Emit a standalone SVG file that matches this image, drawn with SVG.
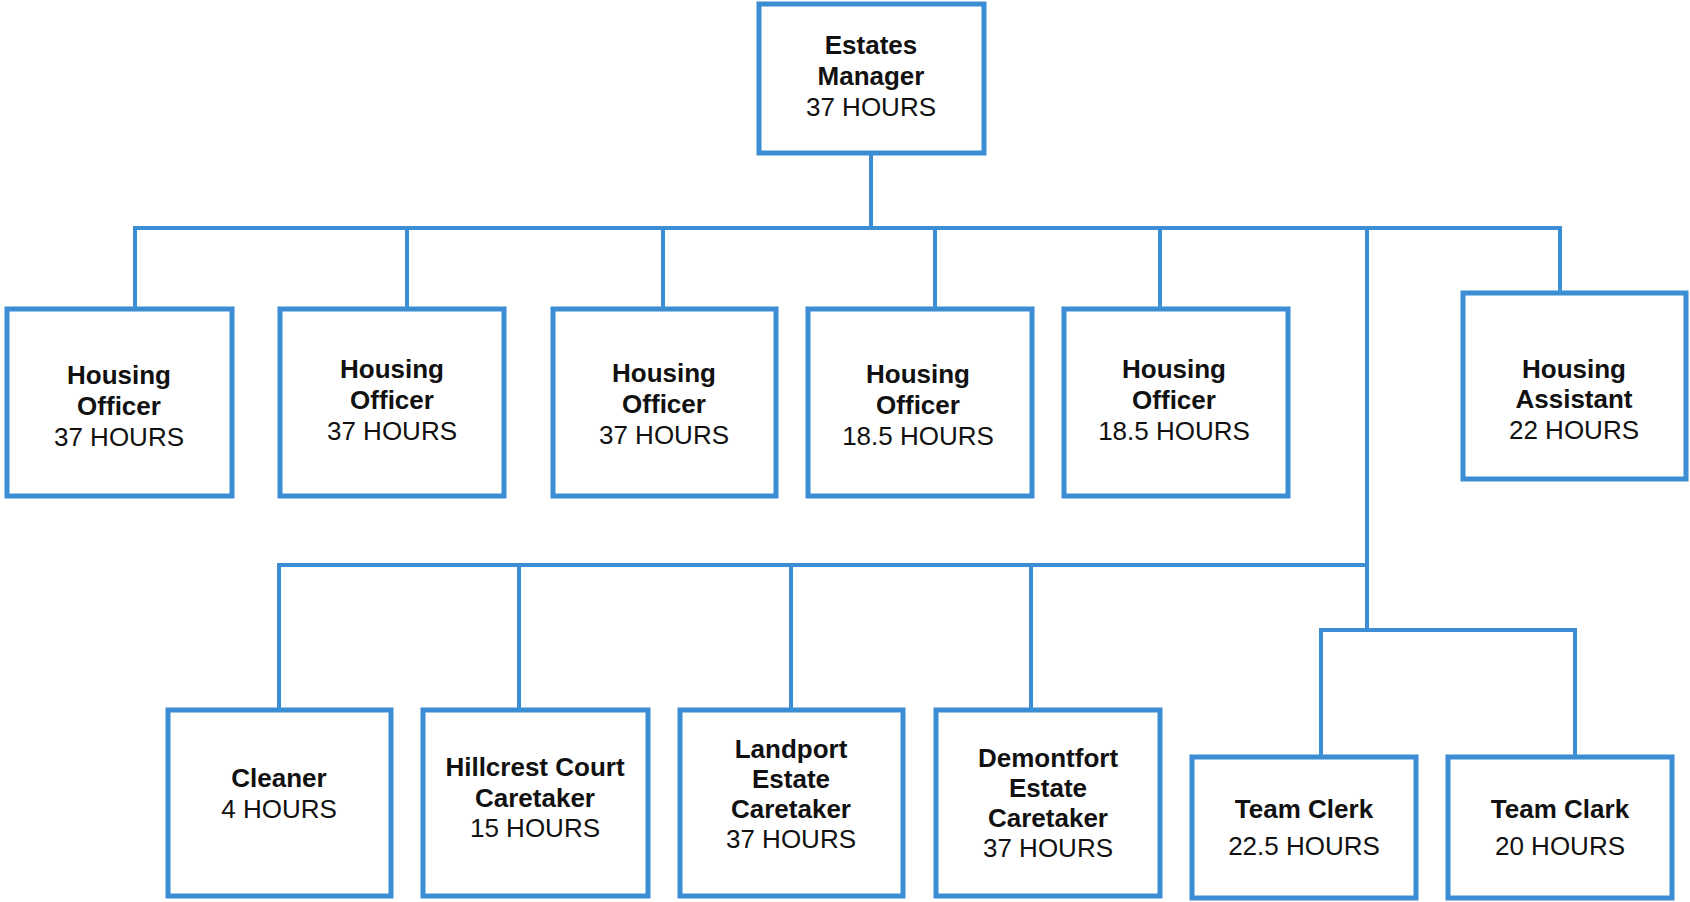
<svg xmlns="http://www.w3.org/2000/svg" width="1690" height="902" viewBox="0 0 1690 902">
<style>
.box{fill:#fff;stroke:#3B8ED4;stroke-width:5}
.ln{fill:none;stroke:#3B8ED4;stroke-width:4;stroke-linecap:square}
text{font-family:"Liberation Sans",Arial,sans-serif;font-size:26px;fill:#111;text-anchor:middle}
.b{font-weight:bold}
</style>
<rect width="1690" height="902" fill="#fff"/>
<g id="connectors">
<path class="ln" d="M871 153V228M135 228H1560M135 228V309M407 228V309M663 228V309M935 228V309M1160 228V309M1560 228V293M1367 228V630M279 565H1367M279 565V710M519 565V710M791 565V710M1031 565V710M1321 630H1575M1321 630V757M1575 630V757"/>
</g>
<g id="estates-manager"><rect class="box" x="759" y="4" width="225" height="149"/>
<text x="871" y="54"><tspan class="b">Estates</tspan><tspan class="b" x="871" y="85">Manager</tspan><tspan x="871" y="116">37 HOURS</tspan></text></g>
<g id="ho1"><rect class="box" x="7" y="309" width="225" height="187"/>
<text x="119" y="384"><tspan class="b">Housing</tspan><tspan class="b" x="119" y="415">Officer</tspan><tspan x="119" y="446">37 HOURS</tspan></text></g>
<g id="ho2"><rect class="box" x="280" y="309" width="224" height="187"/>
<text x="392" y="378"><tspan class="b">Housing</tspan><tspan class="b" x="392" y="409">Officer</tspan><tspan x="392" y="440">37 HOURS</tspan></text></g>
<g id="ho3"><rect class="box" x="553" y="309" width="223" height="187"/>
<text x="664" y="382"><tspan class="b">Housing</tspan><tspan class="b" x="664" y="413">Officer</tspan><tspan x="664" y="444">37 HOURS</tspan></text></g>
<g id="ho4"><rect class="box" x="808" y="309" width="224" height="187"/>
<text x="918" y="383"><tspan class="b">Housing</tspan><tspan class="b" x="918" y="414">Officer</tspan><tspan x="918" y="445">18.5 HOURS</tspan></text></g>
<g id="ho5"><rect class="box" x="1064" y="309" width="224" height="187"/>
<text x="1174" y="378"><tspan class="b">Housing</tspan><tspan class="b" x="1174" y="409">Officer</tspan><tspan x="1174" y="440">18.5 HOURS</tspan></text></g>
<g id="ha"><rect class="box" x="1463" y="293" width="223" height="186"/>
<text x="1574" y="378"><tspan class="b">Housing</tspan><tspan class="b" x="1574" y="408">Assistant</tspan><tspan x="1574" y="439">22 HOURS</tspan></text></g>
<g id="cleaner"><rect class="box" x="168" y="710" width="223" height="186"/>
<text x="279" y="787"><tspan class="b">Cleaner</tspan><tspan x="279" y="818">4 HOURS</tspan></text></g>
<g id="hillcrest"><rect class="box" x="423" y="710" width="225" height="186"/>
<text x="535" y="776"><tspan class="b">Hillcrest Court</tspan><tspan class="b" x="535" y="807">Caretaker</tspan><tspan x="535" y="837">15 HOURS</tspan></text></g>
<g id="landport"><rect class="box" x="680" y="710" width="223" height="186"/>
<text x="791" y="758"><tspan class="b">Landport</tspan><tspan class="b" x="791" y="788">Estate</tspan><tspan class="b" x="791" y="818">Caretaker</tspan><tspan x="791" y="848">37 HOURS</tspan></text></g>
<g id="demontfort"><rect class="box" x="936" y="710" width="224" height="186"/>
<text x="1048" y="767"><tspan class="b">Demontfort</tspan><tspan class="b" x="1048" y="797">Estate</tspan><tspan class="b" x="1048" y="827">Caretaker</tspan><tspan x="1048" y="857">37 HOURS</tspan></text></g>
<g id="team-clerk"><rect class="box" x="1192" y="757" width="224" height="141"/>
<text x="1304" y="818"><tspan class="b">Team Clerk</tspan><tspan x="1304" y="855">22.5 HOURS</tspan></text></g>
<g id="team-clark"><rect class="box" x="1448" y="757" width="224" height="141"/>
<text x="1560" y="818"><tspan class="b">Team Clark</tspan><tspan x="1560" y="855">20 HOURS</tspan></text></g>
</svg>
